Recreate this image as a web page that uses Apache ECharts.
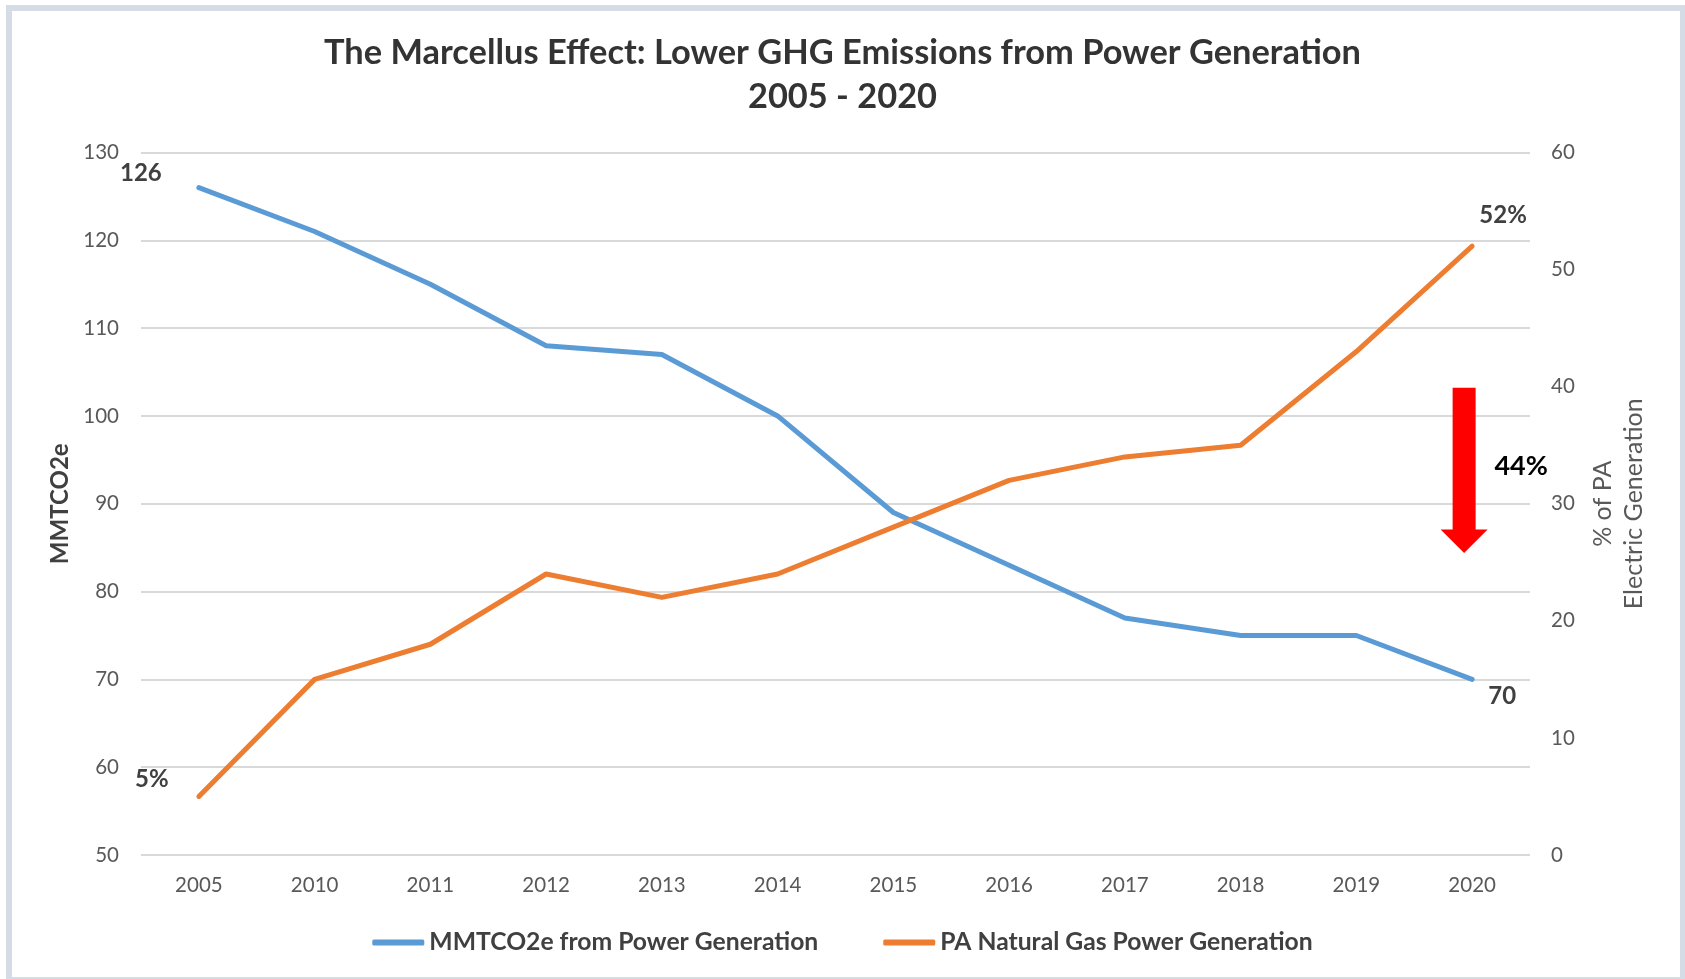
<!DOCTYPE html>
<html>
<head>
<meta charset="utf-8">
<script src="https://cdn.jsdelivr.net/npm/echarts@6/dist/echarts.min.js"></script>
<style>
html,body{margin:0;padding:0;background:#fff;}
#chart{position:absolute;left:0;top:0;width:1685px;height:979px;}
#frame{position:absolute;left:6px;top:5px;width:1680px;height:978px;border:6px solid #d6dce5;box-sizing:border-box;pointer-events:none;}
</style>
</head>
<body>
<div id="chart"></div>
<div id="frame"></div>
<script>
const titleText = 'The Marcellus Effect: Lower GHG Emissions from Power Generation\n2005 - 2020';
const years = ['2005','2010','2011','2012','2013','2014','2015','2016','2017','2018','2019','2020'];
const emissions = [126,121,115,108,107,100,89,83,77,75,75,70];
const gasShare = [5,15,18,24,22,24,28,32,34,35,43,52];
const leftTicks = {min:50, max:130, interval:10};
const rightTicks = {min:0, max:60, interval:10};
const seriesNames = ['MMTCO2e from Power Generation','PA Natural Gas Power Generation'];
const leftAxisName = 'MMTCO2e';
const rightAxisName = '% of PA\nElectric Generation';
// annotation: reduction arrow at 2020 on the left axis scale
const arrowYear = '2020';
const arrowFrom = 103.2;
const arrowTo = 84.4;
const reductionText = '44%';
const reductionValue = 94.3;

const FONT = 'Lato';
const GREY = '#595959';
const DARK = '#404040';

function withEndLabels(values, fmt, firstOffset, lastOffset){
  return values.map((v,i)=>{
    if(i===0 || i===values.length-1){
      return {value:v, label:{show:true, position:'inside', offset: i===0?firstOffset:lastOffset,
        formatter: fmt, fontFamily:FONT, fontWeight:'bold', fontSize:24, color:DARK}};
    }
    return v;
  });
}

const chart = echarts.init(document.getElementById('chart'));
const option = {
  backgroundColor:'transparent',
  animation:false,
  title:{text:titleText, left:'center', top:31, padding:0,
    textStyle:{fontFamily:FONT, fontWeight:'bold', fontSize:34.4, lineHeight:44, color:'#333333'}},
  legend:{data:seriesNames, left:'center', top:925, itemGap:65, itemWidth:52, itemHeight:6, icon:'roundRect',
    textStyle:{fontFamily:FONT, fontWeight:'bold', fontSize:24.7, color:DARK}},
  grid:{left:141, right:155, top:152.5, bottom:124},
  xAxis:{type:'category', data:years, boundaryGap:true,
    axisLine:{show:false}, axisTick:{show:false},
    axisLabel:{fontFamily:FONT, fontSize:20.5, color:GREY, margin:20}},
  yAxis:[
    {type:'value', min:leftTicks.min, max:leftTicks.max, interval:leftTicks.interval,
     name:leftAxisName, nameLocation:'middle', nameGap:67, nameRotate:90,
     nameTextStyle:{fontFamily:FONT, fontWeight:'bold', fontSize:24, color:DARK},
     axisLine:{show:false}, axisTick:{show:false},
     axisLabel:{fontFamily:FONT, fontSize:20.5, color:GREY, margin:22},
     splitLine:{lineStyle:{color:'#d9d9d9', width:2}}},
    {type:'value', min:rightTicks.min, max:rightTicks.max, interval:rightTicks.interval, position:'right',
     name:rightAxisName, nameLocation:'middle', nameGap:57, nameRotate:90,
     nameTextStyle:{fontFamily:FONT, fontSize:25, color:GREY, lineHeight:31},
     axisLine:{show:false}, axisTick:{show:false},
     axisLabel:{fontFamily:FONT, fontSize:20.5, color:GREY, margin:21},
     splitLine:{show:false}}
  ],
  series:[
    {name:seriesNames[0], type:'line', yAxisIndex:0, data:withEndLabels(emissions,'{c}',[-58,-14],[30,17]),
     symbol:'circle', symbolSize:1, showSymbol:true,
     lineStyle:{color:'#5b9bd5', width:5, cap:'round', join:'round'}, itemStyle:{color:'#5b9bd5'}},
    {name:seriesNames[1], type:'line', yAxisIndex:1, data:withEndLabels(gasShare,'{c}%',[-47,-17],[31,-31]),
     symbol:'circle', symbolSize:1, showSymbol:true,
     lineStyle:{color:'#ed7d31', width:5, cap:'round', join:'round'}, itemStyle:{color:'#ed7d31'}}
  ]
};
chart.setOption(option);

const arrowTopPx = chart.convertToPixel({xAxisIndex:0, yAxisIndex:0}, [arrowYear, arrowFrom]);
const arrowTipPx = chart.convertToPixel({xAxisIndex:0, yAxisIndex:0}, [arrowYear, arrowTo]);
const textPx = chart.convertToPixel({xAxisIndex:0, yAxisIndex:0}, [arrowYear, reductionValue]);
const cx = arrowTopPx[0] - 8;
const shaftHalf = 11.5, headHalf = 23.5, headH = 23.5;
chart.setOption({graphic:[
  {type:'polygon', shape:{points:[
    [cx-shaftHalf, arrowTopPx[1]], [cx+shaftHalf, arrowTopPx[1]], [cx+shaftHalf, arrowTipPx[1]-headH],
    [cx+headHalf, arrowTipPx[1]-headH], [cx, arrowTipPx[1]], [cx-headHalf, arrowTipPx[1]-headH], [cx-shaftHalf, arrowTipPx[1]-headH]
  ]}, style:{fill:'#ff0000'}},
  {type:'text', x:cx+57, y:textPx[1], style:{text:reductionText, fontFamily:FONT, fontWeight:'bold', fontSize:27,
    fill:'#000000', textAlign:'center', textVerticalAlign:'middle'}}
]});
</script>
</body>
</html>
